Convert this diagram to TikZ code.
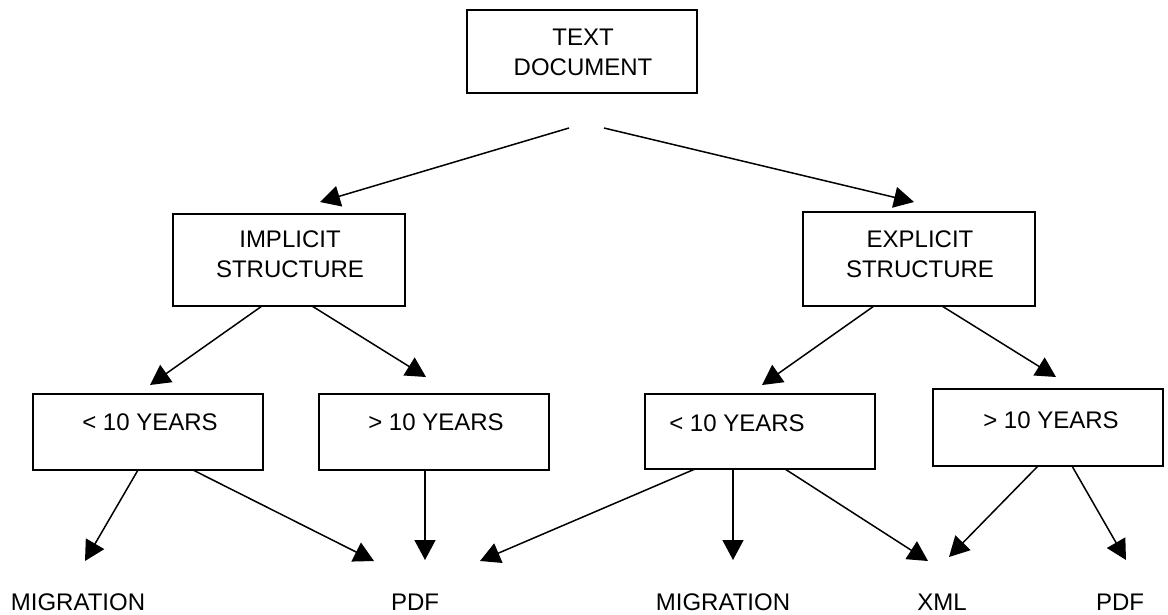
\documentclass[tikz,border=0pt]{standalone}
\usepackage{fontspec}
\setmainfont{Liberation Sans}
\usetikzlibrary{arrows.meta}
\begin{document}
\begin{tikzpicture}[x=1pt,y=-1pt,
  box/.style={draw, line width=2pt, minimum width=230pt, inner sep=0pt},
  lbl/.style={font=\fontsize{24}{30}\selectfont, align=center, inner sep=0pt},
  arr/.style={line width=1.5pt, -{Triangle[length=20pt,width=21pt]}}]
\useasboundingbox (0,0) rectangle (1168,614);

% boxes
\node[box, minimum height=83pt] (doc) at (582,51.5) {};
\node[box, minimum width=232pt, minimum height=92pt] (impl) at (289,260) {};
\node[box, minimum width=232pt, minimum height=94pt] (expl) at (919,259) {};
\node[box, minimum height=76pt] (ly) at (148,432) {};
\node[box, minimum height=76pt] (lo) at (434,432) {};
\node[box, minimum height=75pt] (my) at (760,431.5) {};
\node[box, minimum height=77pt] (ro) at (1048,427.5) {};

% box captions
\node[lbl] (docT) at (583,52) {TEXT\\DOCUMENT};
\node[lbl] (implT) at (290,254.5) {IMPLICIT\\STRUCTURE};
\node[lbl] (explT) at (920,254.5) {EXPLICIT\\STRUCTURE};
\node[lbl] (lyT) at (150,422) {< 10 YEARS};
\node[lbl] (loT) at (436,422) {> 10 YEARS};
\node[lbl] (myT) at (737,423) {< 10 YEARS};
\node[lbl] (roT) at (1051,420) {> 10 YEARS};

% outcomes
\node[lbl] (mig1) at (78,602) {MIGRATION};
\node[lbl] (pdf1) at (415,602) {PDF};
\node[lbl] (mig2) at (723,602) {MIGRATION};
\node[lbl] (xml) at (942,602.5) {XML};
\node[lbl] (pdf2) at (1120,602) {PDF};

% connector end points
\coordinate (d1) at (569,128);
\coordinate (d2) at (604,128);
\coordinate (t1) at (320,202);
\coordinate (t2) at (914,202);
\coordinate (i1) at (262,306);
\coordinate (i2) at (312,306);
\coordinate (ti1) at (150,385);
\coordinate (ti2) at (426,377);
\coordinate (e1) at (874,306);
\coordinate (e2) at (942,306);
\coordinate (te1) at (762,385);
\coordinate (te2) at (1056,377);
\coordinate (ly1) at (138,470);
\coordinate (ly2) at (193,470);
\coordinate (lo1) at (425,470);
\coordinate (my1) at (695,469);
\coordinate (my2) at (733,469);
\coordinate (my3) at (785,469);
\coordinate (ro1) at (1038,466);
\coordinate (ro2) at (1072,466);
\coordinate (tm1) at (85,561);
\coordinate (tp1) at (374,561);
\coordinate (tp2) at (425,560);
\coordinate (tp3) at (480,561);
\coordinate (tm2) at (733,560);
\coordinate (tx1) at (928,561);
\coordinate (tx2) at (949,557);
\coordinate (tp4) at (1126,560);

% connectors
\draw[arr] (d1) -- (t1);
\draw[arr] (d2) -- (t2);
\draw[arr] (i1) -- (ti1);
\draw[arr] (i2) -- (ti2);
\draw[arr] (e1) -- (te1);
\draw[arr] (e2) -- (te2);
\draw[arr] (ly1) -- (tm1);
\draw[arr] (ly2) -- (tp1);
\draw[arr] (lo1) -- (tp2);
\draw[arr] (my1) -- (tp3);
\draw[arr] (my2) -- (tm2);
\draw[arr] (my3) -- (tx1);
\draw[arr] (ro1) -- (tx2);
\draw[arr] (ro2) -- (tp4);
\end{tikzpicture}
\end{document}
